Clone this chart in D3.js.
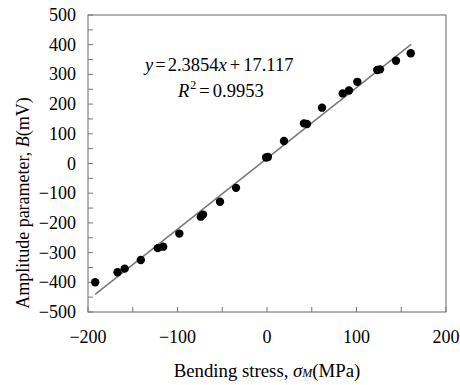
<!DOCTYPE html>
<html><head><meta charset="utf-8">
<script src="https://cdn.jsdelivr.net/npm/d3@7"></script>
<style>body{margin:0;background:#fff;}</style>
</head><body>
<svg id="c" width="460" height="385" font-family="'Liberation Serif', 'Times New Roman', serif"></svg>
<script>
const stress = [-192,-167,-159,-141,-122,-116,-98,-74,-71.5,-52.5,-34.6,-1,1,19,41.3,44.7,61.5,84.6,91.6,100.9,123.2,126.3,144.1,160.6];
const amplitude = [-400,-366,-354,-325,-285,-280,-236,-179,-172,-129,-82,20,22,76,135,133,188,236,246,275,315,317,346,371];
const xTickLabels = [-200,-100,0,100,200];
const yTickLabels = [500,400,300,200,100,0,-100,-200,-300,-400,-500];
const slope = 2.3854, intercept = 17.117;
const fitRange = [-192,161];

const svg = d3.select("#c");
const x = d3.scaleLinear().domain([-200,200]).range([88,446]);
const y = d3.scaleLinear().domain([-500,500]).range([312,15]);
const fmt = v => v < 0 ? "\u2212" + Math.abs(v) : String(v);

svg.append("rect").attr("x",88).attr("y",15).attr("width",358).attr("height",297)
  .attr("fill","#fff").attr("stroke","#666").attr("stroke-width",1);

// inward ticks
const xt = d3.range(-200,201,50), yt = d3.range(-500,501,50);
svg.append("g").selectAll("line").data(xt).join("line")
  .attr("x1",d=>x(d)).attr("x2",d=>x(d)).attr("y1",312).attr("y2",307)
  .attr("stroke","#777");
svg.append("g").selectAll("line").data(yt).join("line")
  .attr("x1",88).attr("x2",93).attr("y1",d=>y(d)).attr("y2",d=>y(d))
  .attr("stroke","#777");

svg.append("g").selectAll("text").data(xTickLabels).join("text")
  .attr("x",d=>x(d)).attr("y",343).attr("text-anchor","middle")
  .attr("font-size",18).text(fmt);
svg.append("g").selectAll("text").data(yTickLabels).join("text")
  .attr("x",76).attr("y",d=>y(d)+6).attr("text-anchor","end")
  .attr("font-size",18).text(fmt);

// fit line
svg.append("line")
  .attr("x1",x(fitRange[0])).attr("y1",y(slope*fitRange[0]+intercept))
  .attr("x2",x(fitRange[1])).attr("y2",y(slope*fitRange[1]+intercept))
  .attr("stroke","#777").attr("stroke-width",1.5);

svg.append("g").selectAll("circle").data(stress.map((s,i)=>[s,amplitude[i]])).join("circle")
  .attr("cx",d=>x(d[0])).attr("cy",d=>y(d[1])).attr("r",4.2).attr("fill","#000");

// equation
const eq = svg.append("text").attr("x",145).attr("y",71).attr("font-size",18.5);
eq.append("tspan").attr("font-style","italic").text("y");
eq.append("tspan").attr("dx",2).text("=");
eq.append("tspan").attr("dx",2).text("2.3854");
eq.append("tspan").attr("font-style","italic").text("x");
eq.append("tspan").attr("dx",3).text("+");
eq.append("tspan").attr("dx",3).text("17.117");
const r2 = svg.append("text").attr("x",178).attr("y",97).attr("font-size",18.5);
r2.append("tspan").attr("font-style","italic").text("R");
r2.append("tspan").attr("font-size",12).attr("dx",1).attr("dy",-8).text("2");
r2.append("tspan").attr("dx",3).attr("dy",8).text("=");
r2.append("tspan").attr("dx",3).text("0.9953");

// axis titles
const xl = svg.append("text").attr("x",267).attr("y",377).attr("text-anchor","middle").attr("font-size",18.8);
xl.append("tspan").text("Bending stress, ");
xl.append("tspan").attr("font-style","italic").text("σ");
xl.append("tspan").attr("font-style","italic").attr("font-size",12).text("M");
xl.append("tspan").text("(MPa)");

const yl = svg.append("text").attr("transform","translate(29,203) rotate(-90)").attr("text-anchor","middle").attr("font-size",18);
yl.append("tspan").text("Amplitude parameter, ");
yl.append("tspan").attr("font-style","italic").text("B");
yl.append("tspan").text("(mV)");
</script>
</body></html>
